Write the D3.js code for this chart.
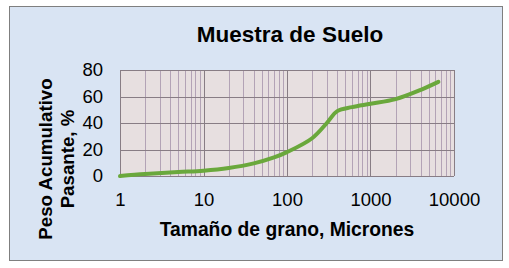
<!DOCTYPE html>
<html>
<head>
<meta charset="utf-8">
<script src="https://cdn.jsdelivr.net/npm/d3@7"></script>
<style>
  body { margin: 0; background: #fff; }
  svg { display: block; font-family: 'Liberation Sans', Arial, sans-serif; }
</style>
</head>
<body>
<svg width="509" height="268"></svg>
<script>
// grain size (microns) and cumulative % passing
const sizes = [1, 2, 5, 10, 20, 40, 70, 100, 200, 300, 400, 600, 1000, 2000, 4000, 6500]
const passing = [0, 1.5, 3, 4, 6, 9.5, 14, 18, 28.5, 40, 49, 52, 54.5, 58, 65, 71]
const xTicks = [1, 10, 100, 1000, 10000]
const yTicks = [0, 20, 40, 60, 80]

const title = 'Muestra de Suelo'
const xLabel = 'Tamaño de grano, Micrones'
const yLabel = ['Peso Acumulativo', 'Pasante, %']

const svg = d3.select('svg')
const margins = { top: 70, right: 55, bottom: 92, left: 120 }
const width = 509 - margins.left - margins.right
const height = 268 - margins.top - margins.bottom

// chart frame
svg.append('rect')
  .attr('x', 9.5).attr('y', 6.5)
  .attr('width', 493).attr('height', 254)
  .attr('fill', '#d9e4f3')
  .attr('stroke', '#7f7f7f')

const g = svg.append('g')
  .attr('transform', `translate(${margins.left}, ${margins.top})`)

const x = d3.scaleLog().domain([1, 10000]).range([0, width])
const y = d3.scaleLinear().domain([0, 80]).range([height, 0])

g.append('rect')
  .attr('width', width).attr('height', height)
  .attr('fill', '#e7dfe0')

// minor vertical grid
const minor = []
for (let d = 1; d < 10000; d *= 10) {
  for (let k = 2; k <= 9; k++) minor.push(d * k)
}
g.append('g')
  .selectAll('line')
  .data(minor)
  .enter()
  .append('line')
  .attr('x1', (d) => Math.round(x(d)) + 0.5)
  .attr('x2', (d) => Math.round(x(d)) + 0.5)
  .attr('y1', 0).attr('y2', height)
  .attr('stroke', '#b3a3b6')

// major grid
g.append('g')
  .selectAll('line')
  .data(xTicks)
  .enter()
  .append('line')
  .attr('x1', (d) => Math.round(x(d)) + 0.5)
  .attr('x2', (d) => Math.round(x(d)) + 0.5)
  .attr('y1', 0).attr('y2', height)
  .attr('stroke', '#887d85')

g.append('g')
  .selectAll('line')
  .data(yTicks)
  .enter()
  .append('line')
  .attr('x1', 0).attr('x2', width)
  .attr('y1', (d) => Math.round(y(d)) + 0.5)
  .attr('y2', (d) => Math.round(y(d)) + 0.5)
  .attr('stroke', '#887d85')

// axes labels (no axis lines, Excel style)
const xAxis = g.append('g')
  .attr('transform', `translate(0, ${height})`)
  .call(d3.axisBottom(x).tickValues(xTicks).tickFormat(d3.format('d')).tickSize(0).tickPadding(17))
xAxis.select('.domain').remove()
xAxis.selectAll('text')
  .attr('font-size', 18.5).attr('fill', '#000')
  .attr('font-family', "'Liberation Sans', Arial, sans-serif")

const yAxis = g.append('g')
  .call(d3.axisLeft(y).tickValues(yTicks).tickSize(0).tickPadding(17))
yAxis.select('.domain').remove()
yAxis.selectAll('text')
  .attr('font-size', 18.5).attr('fill', '#000')
  .attr('font-family', "'Liberation Sans', Arial, sans-serif")

// data line
const line = d3.line()
  .x((d) => x(d[0]))
  .y((d) => y(d[1]))
  .curve(d3.curveCatmullRom.alpha(0.5))

g.append('path')
  .datum(d3.zip(sizes, passing))
  .attr('d', line)
  .attr('fill', 'none')
  .attr('stroke', '#6aa83c')
  .attr('stroke-width', 4)
  .attr('stroke-linecap', 'round')

// titles
svg.append('text')
  .attr('x', 290).attr('y', 42)
  .attr('text-anchor', 'middle')
  .attr('font-size', 22.5).attr('font-weight', 'bold')
  .text(title)

svg.append('text')
  .attr('x', 287).attr('y', 236)
  .attr('text-anchor', 'middle')
  .attr('font-size', 19.3).attr('font-weight', 'bold')
  .text(xLabel)

svg.append('text')
  .attr('transform', 'translate(52, 159) rotate(-90)')
  .attr('text-anchor', 'middle')
  .attr('font-size', 18.7).attr('font-weight', 'bold')
  .selectAll('tspan')
  .data(yLabel)
  .enter()
  .append('tspan')
  .attr('x', 0)
  .attr('dy', (d, i) => i === 0 ? 0 : 22)
  .text((d) => d)
</script>
</body>
</html>
